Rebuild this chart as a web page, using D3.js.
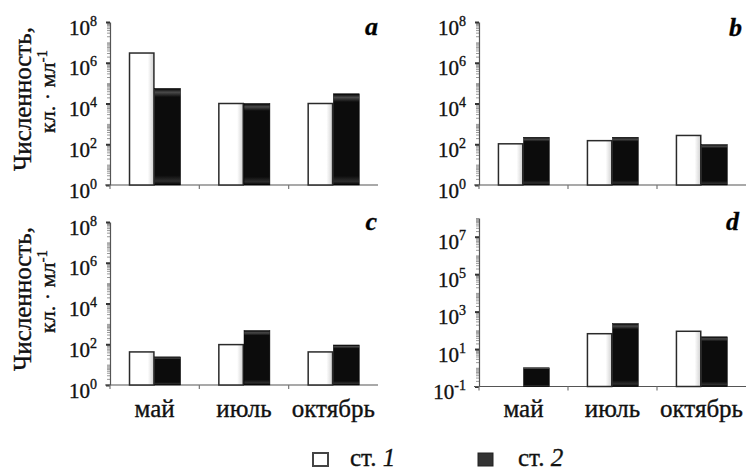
<!DOCTYPE html>
<html>
<head>
<meta charset="utf-8">
<script src="https://cdn.jsdelivr.net/npm/d3@7"></script>
<style>
body { margin: 0; background: #fff; }
svg { display: block; }
svg text { stroke: #111; stroke-width: 0.35px; }
</style>
</head>
<body>
<script>
// data (cells per ml)
const months = ['май', 'июль', 'октябрь'];
const seriesNames = ['ст. ', 'ст. '];
const seriesNums = ['1', '2'];

const aSt1 = [3e6, 1e4, 1e4];
const aSt2 = [5.5e4, 1e4, 3e4];
const bSt1 = [105, 150, 270];
const bSt2 = [220, 220, 96];
const cSt1 = [42, 96, 42];
const cSt2 = [24, 470, 92];
const dSt1 = [null, 66, 89];
const dSt2 = [1, 230, 45];

const abcExps = [0, 2, 4, 6, 8];
const dExps = [-1, 1, 3, 5, 7];

const FONT = "'Liberation Serif', 'Times New Roman', serif";
const W = 751, H = 470;
const svg = d3.select('body').append('svg').attr('width', W).attr('height', H)
  .attr('font-family', FONT);

const defs = svg.append('defs');
let gw = defs.append('linearGradient').attr('id', 'gWhite');
gw.append('stop').attr('offset', '0%').attr('stop-color', '#fff');
gw.append('stop').attr('offset', '75%').attr('stop-color', '#fff');
gw.append('stop').attr('offset', '100%').attr('stop-color', '#d0d0d0');
let gb = defs.append('linearGradient').attr('id', 'gBlack').attr('x1', 0).attr('x2', 0).attr('y1', 0).attr('y2', 1);
[['0%', '#000'], ['4%', '#4a4a4a'], ['9%', '#0c0c0c'], ['90%', '#0c0c0c'], ['96%', '#2e2e2e'], ['100%', '#000']]
  .forEach(s => gb.append('stop').attr('offset', s[0]).attr('stop-color', s[1]));

const panels = [
  {x0: 110, x1: 378, top: 22, base: 185, domain: [1, 1e8], exps: abcExps, letter: 'a', lx: 378, ly: 35, s1: aSt1, s2: aSt2, title: true, cats: false},
  {x0: 479, x1: 746, top: 22, base: 185, domain: [1, 1e8], exps: abcExps, letter: 'b', lx: 742, ly: 36, s1: bSt1, s2: bSt2, title: false, cats: false},
  {x0: 110, x1: 378, top: 222, base: 385, domain: [1, 1e8], exps: abcExps, letter: 'c', lx: 377, ly: 230, s1: cSt1, s2: cSt2, title: true, cats: true},
  {x0: 479, x1: 746, top: 218, base: 386.5, domain: [0.1, 1e8], exps: dExps, letter: 'd', lx: 739, ly: 230, s1: dSt1, s2: dSt2, title: false, cats: true}
];

panels.forEach(p => drawPanel(p));

function drawPanel(p) {
  const g = svg.append('g');
  const x = d3.scaleBand().domain(months).range([p.x0, p.x1]);
  const bw = x.bandwidth();
  const xs = d3.scaleBand().domain([0, 1]).range([bw * 0.21, bw * 0.79]);
  const y = d3.scaleLog().domain(p.domain).range([p.base, p.top]);

  // minor ticks
  const majors = p.exps.map(e => 10 ** e);
  const minors = y.ticks().filter(t => !majors.some(m => Math.abs(m - t) / m < 1e-9));
  g.append('g')
    .attr('transform', `translate(${p.x0},0)`)
    .call(d3.axisLeft(y).tickValues(minors).tickSize(3).tickSizeOuter(0).tickFormat(''))
    .call(s => s.select('.domain').remove())
    .call(s => s.selectAll('line').attr('stroke', '#999'));

  // major ticks + labels
  g.append('g')
    .attr('transform', `translate(${p.x0},0)`)
    .call(d3.axisLeft(y).tickValues(majors).tickSize(4).tickSizeOuter(0).tickPadding(9).tickFormat(''))
    .attr('font-family', FONT)
    .call(s => s.select('.domain').attr('stroke', '#555').attr('stroke-width', 1.2))
    .call(s => s.selectAll('line').attr('stroke', '#333').attr('stroke-width', 2))
    .call(s => s.selectAll('text')
      .attr('font-size', 21).attr('fill', '#111').attr('dy', '0.58em')
      .each(function(d) {
        const t = d3.select(this);
        t.append('tspan').text('10');
        t.append('tspan').attr('dy', -9).attr('font-size', 14).text(String(Math.round(Math.log10(d))));
      }));

  // x axis
  g.append('line')
    .attr('x1', p.x0 - 5).attr('x2', p.x1)
    .attr('y1', p.base).attr('y2', p.base)
    .attr('stroke', '#555').attr('stroke-width', 1.2);
  g.selectAll('.xt').data(months).enter().append('line')
    .attr('x1', d => x(d)).attr('x2', d => x(d))
    .attr('y1', p.base).attr('y2', p.base + 4)
    .attr('stroke', '#777').attr('stroke-width', 1.2);

  // bars
  const rows = [];
  months.forEach((m, i) => {
    [p.s1[i], p.s2[i]].forEach((v, j) => { if (v != null) rows.push({m, j, v}); });
  });
  g.selectAll('.bar').data(rows).enter().append('rect')
    .attr('x', d => x(d.m) + xs(d.j) + (d.j === 0 ? 0.75 : 0))
    .attr('y', d => y(d.v))
    .attr('width', d => xs.bandwidth() - (d.j === 0 ? 1.5 : 0))
    .attr('height', d => p.base - y(d.v))
    .attr('fill', d => d.j === 0 ? 'url(#gWhite)' : 'url(#gBlack)')
    .attr('stroke', d => d.j === 0 ? '#2a2a2a' : '#000')
    .attr('stroke-width', d => d.j === 0 ? 1.5 : 0.5);

  // panel letter
  g.append('text')
    .attr('x', p.lx).attr('y', p.ly)
    .attr('text-anchor', 'end')
    .attr('font-size', 26).attr('font-weight', 'bold').attr('font-style', 'italic')
    .text(p.letter);

  if (p.title) {
    const mid = (p.top + p.base) / 2;
    g.append('text')
      .attr('transform', `translate(31,${mid - 4.5}) rotate(-90)`)
      .attr('text-anchor', 'middle')
      .attr('font-size', 25).attr('fill', '#111')
      .text('Численность,');
    const t2 = g.append('text')
      .attr('transform', `translate(55,${mid - 12}) rotate(-90)`)
      .attr('text-anchor', 'middle')
      .attr('font-size', 22).attr('fill', '#111');
    t2.append('tspan').text('кл. · мл');
    t2.append('tspan').attr('dy', -8).attr('font-size', 15).text('-1');
  }

  if (p.cats) {
    g.selectAll('.cat').data(months).enter().append('text')
      .attr('x', d => x(d) + bw / 2)
      .attr('y', 417)
      .attr('text-anchor', 'middle')
      .attr('font-size', 25).attr('fill', '#111')
      .text(d => d);
  }
}

// legend
const legX = [313, 478];
const leg = svg.append('g');
seriesNames.forEach((s, j) => {
  leg.append('rect')
    .attr('x', legX[j]).attr('y', 453).attr('width', 15).attr('height', 13)
    .attr('fill', j === 0 ? '#fff' : '#333')
    .attr('stroke', j === 0 ? '#444' : '#222').attr('stroke-width', j === 0 ? 2 : 1);
  const t = leg.append('text')
    .attr('x', legX[j] + 37 + (j === 0 ? 0 : 3)).attr('y', 466)
    .attr('font-size', 25).attr('fill', '#111');
  t.append('tspan').text(s);
  t.append('tspan').attr('font-style', 'italic').text(seriesNums[j]);
});
</script>
</body>
</html>
